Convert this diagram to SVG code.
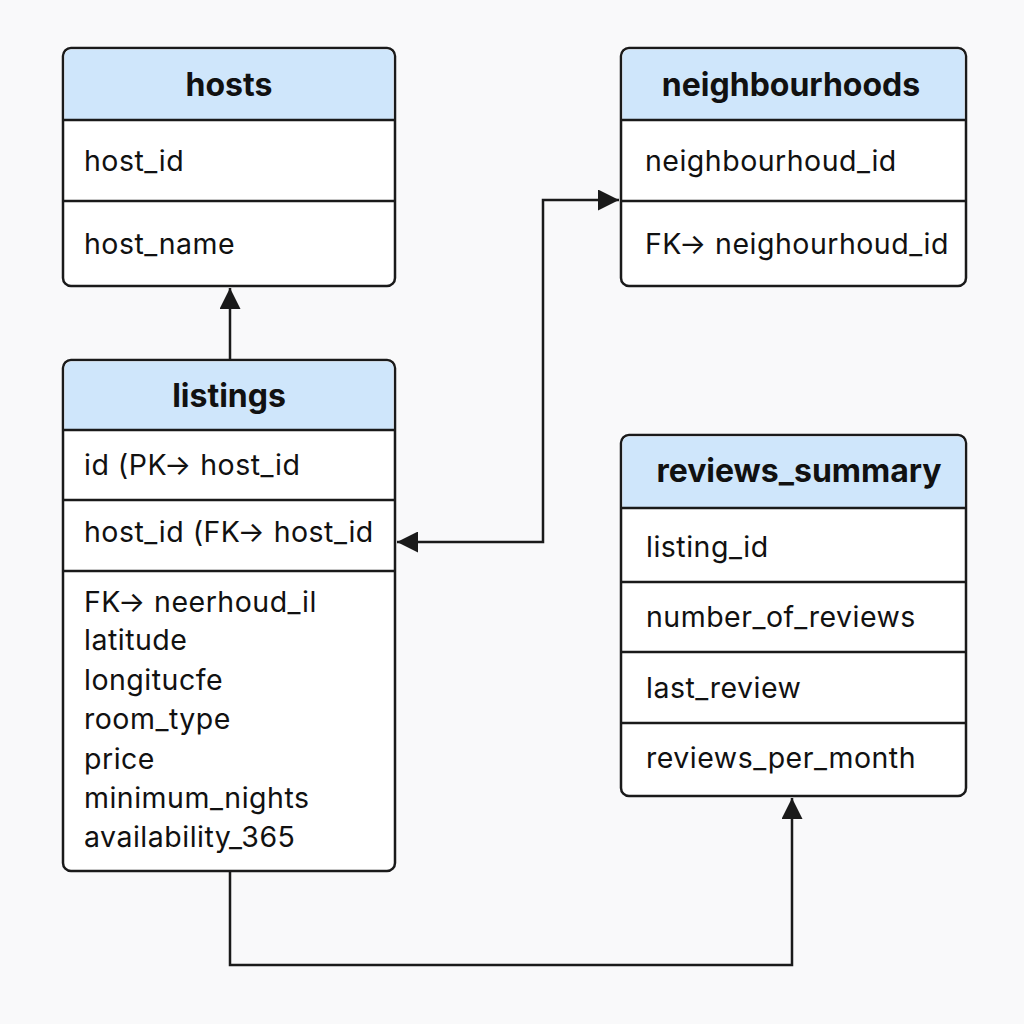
<svg xmlns="http://www.w3.org/2000/svg" width="1024" height="1024" viewBox="0 0 1024 1024">
<style>
.box{fill:#ffffff;stroke:#1a1a1a;stroke-width:2.5}
.hdr{fill:#cfe6fb}
.div{stroke:#1a1a1a;stroke-width:2.5}
.title{font-family:Inter,"Liberation Sans",sans-serif;font-size:32px;font-weight:700;fill:#111;text-anchor:middle}
.fld{font-family:Inter,"Liberation Sans",sans-serif;font-size:28.5px;letter-spacing:0.5px;fill:#111}
.conn{fill:none;stroke:#1a1a1a;stroke-width:2.5}
</style>
<defs>
<marker id="arrow" viewBox="0 0 20 20" refX="20" refY="10" markerWidth="21" markerHeight="21" markerUnits="userSpaceOnUse" orient="auto-start-reverse">
<path d="M0,0 L20,10 L0,20 z" fill="#1a1a1a"/>
</marker>
</defs>
<rect width="1024" height="1024" fill="#f9f9fa"/>

<g id="connectors">
<path class="conn" d="M230,360 V288" marker-end="url(#arrow)"/>
<path class="conn" d="M397,542 H543 V200 H619" marker-start="url(#arrow)" marker-end="url(#arrow)"/>
<path class="conn" d="M230,871 V965 H792 V798" marker-end="url(#arrow)"/>
</g>

<g id="hosts">
<rect class="box" x="63" y="48" width="332" height="238" rx="8"/>
<path class="hdr" d="M71,49.5 H387 A6.5,6.5 0 0 1 393.5,56 V120 H64.5 V56 A6.5,6.5 0 0 1 71,49.5 z"/>
<line class="div" x1="63" y1="120" x2="395" y2="120"/>
<line class="div" x1="63" y1="201" x2="395" y2="201"/>
<text class="title" x="229" y="96">hosts</text>
<text class="fld" x="84" y="171">host_id</text>
<text class="fld" x="84" y="254">host_name</text>
</g>

<g id="listings">
<rect class="box" x="63" y="360" width="332" height="511" rx="8"/>
<path class="hdr" d="M71,361.5 H387 A6.5,6.5 0 0 1 393.5,368 V430 H64.5 V368 A6.5,6.5 0 0 1 71,361.5 z"/>
<line class="div" x1="63" y1="430" x2="395" y2="430"/>
<line class="div" x1="63" y1="500" x2="395" y2="500"/>
<line class="div" x1="63" y1="571" x2="395" y2="571"/>
<text class="title" x="229" y="407">listings</text>
<text class="fld" x="84" y="475">id (PK→ host_id</text>
<text class="fld" x="84" y="542">host_id (FK→ host_id</text>
<text class="fld" x="84" y="612">FK→ neerhoud_il</text>
<text class="fld" x="84" y="650">latitude</text>
<text class="fld" x="84" y="690">longitucfe</text>
<text class="fld" x="84" y="729">room_type</text>
<text class="fld" x="84" y="769">price</text>
<text class="fld" x="84" y="808">minimum_nights</text>
<text class="fld" x="84" y="847">availability_365</text>
</g>

<g id="neighbourhoods">
<rect class="box" x="621" y="48" width="345" height="238" rx="8"/>
<path class="hdr" d="M629,49.5 H958 A6.5,6.5 0 0 1 964.5,56 V120 H622.5 V56 A6.5,6.5 0 0 1 629,49.5 z"/>
<line class="div" x1="621" y1="120" x2="966" y2="120"/>
<line class="div" x1="621" y1="201" x2="966" y2="201"/>
<text class="title" x="791" y="96">neighbourhoods</text>
<text class="fld" x="645" y="171">neighbourhoud_id</text>
<text class="fld" x="645" y="254">FK→ neighourhoud_id</text>
</g>

<g id="reviews_summary">
<rect class="box" x="621" y="435" width="345" height="361" rx="8"/>
<path class="hdr" d="M629,436.5 H958 A6.5,6.5 0 0 1 964.5,443 V508 H622.5 V443 A6.5,6.5 0 0 1 629,436.5 z"/>
<line class="div" x1="621" y1="508" x2="966" y2="508"/>
<line class="div" x1="621" y1="582" x2="966" y2="582"/>
<line class="div" x1="621" y1="652" x2="966" y2="652"/>
<line class="div" x1="621" y1="723" x2="966" y2="723"/>
<text class="title" x="799" y="482">reviews_summary</text>
<text class="fld" x="646" y="557">listing_id</text>
<text class="fld" x="646" y="627">number_of_reviews</text>
<text class="fld" x="646" y="698">last_review</text>
<text class="fld" x="646" y="768">reviews_per_month</text>
</g>
</svg>
